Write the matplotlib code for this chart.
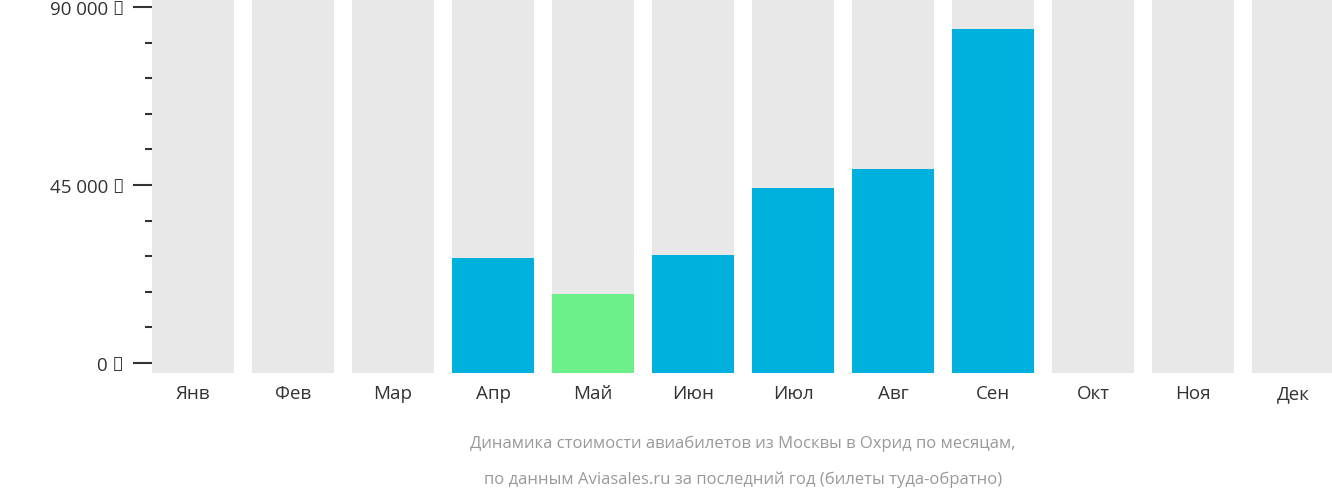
import matplotlib
matplotlib.use("Agg")
import matplotlib.pyplot as plt
from matplotlib.ticker import FixedLocator

months = ["Янв","Фев","Мар","Апр","Май","Июн","Июл","Авг","Сен","Окт","Ноя","Дек"]
prices = [0, 0, 0, 26500, 17400, 27300, 44200, 49000, 84400, 0, 0, 0]
cheapest = "Май"
major_ticks = [0, 45000, 90000]
major_labels = ["0 ₽", "45 000 ₽", "90 000 ₽"]
minor_ticks = [9000, 18000, 27000, 36000, 54000, 63000, 72000, 81000]

plt.rcParams["font.family"] = "Open Sans"
fig = plt.figure(figsize=(13.32, 5.02), dpi=100)
ax = fig.add_axes([152/1332, 1-374/502, 1182/1332, 374/502])
base = -2500
top = 92000
x = list(range(len(months)))
ax.bar(x, [top-base]*12, bottom=base, width=0.82, color="#e8e8e8", zorder=1)
for i, (m, p) in enumerate(zip(months, prices)):
    if p > 0:
        ax.bar(i, p-base, bottom=base, width=0.82,
               color="#6cf08a" if m == cheapest else "#00b0dd", zorder=2)
ax.set_xlim(-0.41, 11.41)
ax.set_ylim(base, top)
for s in ax.spines.values():
    s.set_visible(False)
ax.set_xticks(x)
ax.set_xticklabels(months, fontsize=13.5, color="#333333")
ax.tick_params(axis="x", length=0, pad=8)
ax.yaxis.set_major_locator(FixedLocator(major_ticks))
ax.set_yticklabels(major_labels, fontsize=13.5, color="#333333")
ax.yaxis.set_minor_locator(FixedLocator(minor_ticks))
ax.tick_params(axis="y", which="major", length=14, width=1.5, color="#333333", pad=6)
ax.tick_params(axis="y", which="minor", length=5, width=1.5, color="#333333")
fig.text(743/1332, 1-444/502, "Динамика стоимости авиабилетов из Москвы в Охрид по месяцам,",
         ha="center", va="center", fontsize=12, color="#999999")
fig.text(743/1332, 1-480/502, "по данным Aviasales.ru за последний год (билеты туда-обратно)",
         ha="center", va="center", fontsize=12, color="#999999")
fig.savefig("out.png", dpi=100)
